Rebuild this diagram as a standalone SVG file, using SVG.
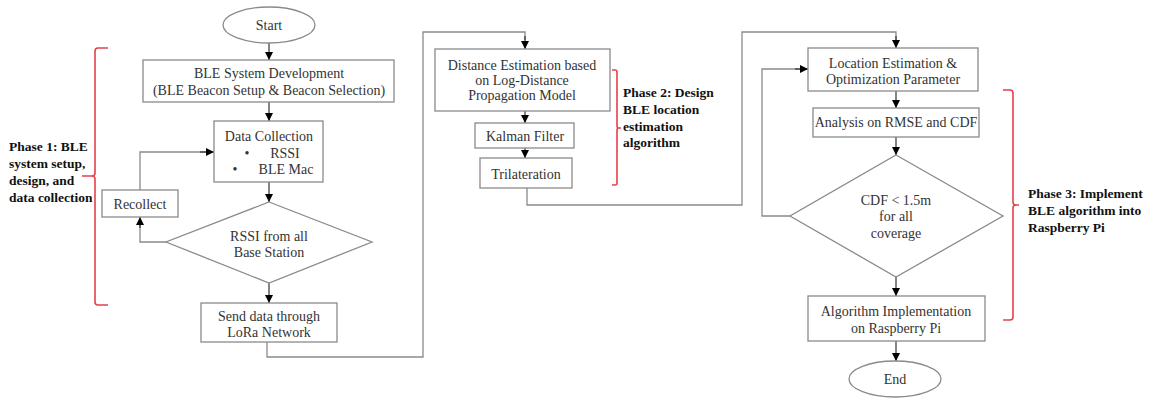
<svg xmlns="http://www.w3.org/2000/svg" width="1153" height="399" viewBox="0 0 1153 399">
<defs>
<marker id="ah" markerWidth="10" markerHeight="10" refX="9" refY="5" orient="auto" markerUnits="userSpaceOnUse">
<path d="M1,1 L9,5 L1,9 Z" fill="#000"/>
</marker>
<style>
.box{fill:#fff;stroke:#8a8a8a;stroke-width:1.3}
.t{font-family:"Liberation Serif","Times New Roman",serif;font-size:14px;fill:#333;text-anchor:middle;dominant-baseline:central}
.ph{font-family:"Liberation Serif","Times New Roman",serif;font-size:13.5px;font-weight:bold;fill:#111;dominant-baseline:central}
.c{fill:none;stroke:#8a8a8a;stroke-width:1.3}
.a{fill:none;stroke:#333;stroke-width:1.2;marker-end:url(#ah)}
.br{fill:none;stroke:#e5404b;stroke-width:1.6}
</style>
</defs>
<rect width="1153" height="399" fill="#fff"/>

<g id="connectors">
<path class="a" d="M269,43 V60"/>
<path class="a" d="M269,102 V121"/>
<path class="a" d="M269,182 V202"/>
<path class="c" d="M166,242 H140 V220"/>
<path class="a" d="M140,228 V217"/>
<path class="c" d="M140,190 V152 H206"/>
<path class="a" d="M200,152 H214"/>
<path class="a" d="M269,283 V303"/>
<path class="c" d="M267,342 V357 H423 V32 H525 V40"/>
<path class="a" d="M525,36 V49"/>
<path class="a" d="M525,111 V123"/>
<path class="a" d="M525,148 V158"/>
<path class="c" d="M527,188 V205 H742 V32 H896 V40"/>
<path class="a" d="M896,36 V48"/>
<path class="a" d="M896,91 V108"/>
<path class="a" d="M896,137 V155"/>
<path class="c" d="M790,216 H762 V69 H800"/>
<path class="a" d="M795,69 H808"/>
<path class="a" d="M896,277 V296"/>
<path class="a" d="M896,341 V361"/>
</g>

<g id="start"><ellipse class="box" cx="269" cy="25" rx="46" ry="18"/><text class="t" x="269" y="25">Start</text></g>
<g id="ble-system"><rect class="box" x="143" y="60" width="251" height="42"/><text class="t" x="269" y="73">BLE System Development</text><text class="t" x="269" y="90">(BLE Beacon Setup &amp; Beacon Selection)</text></g>
<g id="data-collection"><rect class="box" x="214" y="121" width="109" height="61"/><text class="t" x="269" y="136">Data Collection</text><text class="t" x="247" y="153">•</text><text class="t" x="285" y="153">RSSI</text><text class="t" x="235" y="169">•</text><text class="t" x="286" y="169">BLE Mac</text></g>
<g id="recollect"><rect class="box" x="102" y="190" width="76" height="27"/><text class="t" x="140" y="204">Recollect</text></g>
<g id="rssi-check"><polygon class="box" points="269,202 372,242 269,283 166,242"/><text class="t" x="269" y="236">RSSI from all</text><text class="t" x="269" y="252">Base Station</text></g>
<g id="send-lora"><rect class="box" x="201" y="303" width="136" height="39"/><text class="t" x="269" y="316">Send data through</text><text class="t" x="269" y="332">LoRa Network</text></g>

<g id="distance"><rect class="box" x="435" y="49" width="175" height="62"/><text class="t" x="522" y="65">Distance Estimation based</text><text class="t" x="522" y="80">on Log-Distance</text><text class="t" x="522" y="95">Propagation Model</text></g>
<g id="kalman"><rect class="box" x="475" y="123" width="99" height="25"/><text class="t" x="525" y="136">Kalman Filter</text></g>
<g id="trilateration"><rect class="box" x="480" y="158" width="92" height="30"/><text class="t" x="526" y="174">Trilateration</text></g>

<g id="location"><rect class="box" x="808" y="48" width="170" height="43"/><text class="t" x="893" y="63">Location Estimation &amp;</text><text class="t" x="893" y="79">Optimization Parameter</text></g>
<g id="analysis"><rect class="box" x="813" y="108" width="166" height="29"/><text class="t" x="896" y="122">Analysis on RMSE and CDF</text></g>
<g id="cdf-check"><polygon class="box" points="896,155 1003,216 896,277 790,216"/><text class="t" x="896" y="200">CDF &lt; 1.5m</text><text class="t" x="896" y="216">for all</text><text class="t" x="896" y="233">coverage</text></g>
<g id="implementation"><rect class="box" x="808" y="296" width="177" height="45"/><text class="t" x="896" y="311">Algorithm Implementation</text><text class="t" x="896" y="328">on Raspberry Pi</text></g>
<g id="end"><ellipse class="box" cx="895" cy="379" rx="46" ry="18"/><text class="t" x="895" y="379">End</text></g>

<g id="phase1">
<path class="br" d="M108,48 H98 Q95,48 95,51 V173 Q95,176 92,176 H82 M92,176 Q95,176 95,179 V302 Q95,305 98,305 H108"/>
<text class="ph" x="9" y="146">Phase 1: BLE</text><text class="ph" x="9" y="163">system setup,</text><text class="ph" x="9" y="180">design, and</text><text class="ph" x="9" y="197">data collection</text>
</g>
<g id="phase2">
<path class="br" d="M612,70 H615 Q617,70 617,72 V126 Q617,128 619,128 H621 M619,128 Q617,128 617,130 V183 Q617,185 615,185 H612"/>
<text class="ph" x="623" y="92">Phase 2: Design</text><text class="ph" x="623" y="109">BLE location</text><text class="ph" x="623" y="126">estimation</text><text class="ph" x="623" y="142">algorithm</text>
</g>
<g id="phase3">
<path class="br" d="M1003,90 H1010 Q1013,90 1013,93 V202 Q1013,205 1016,205 H1019 M1016,205 Q1013,205 1013,208 V317 Q1013,320 1010,320 H1003"/>
<text class="ph" x="1028" y="193">Phase 3: Implement</text><text class="ph" x="1028" y="210">BLE algorithm into</text><text class="ph" x="1028" y="227">Raspberry Pi</text>
</g>
</svg>
